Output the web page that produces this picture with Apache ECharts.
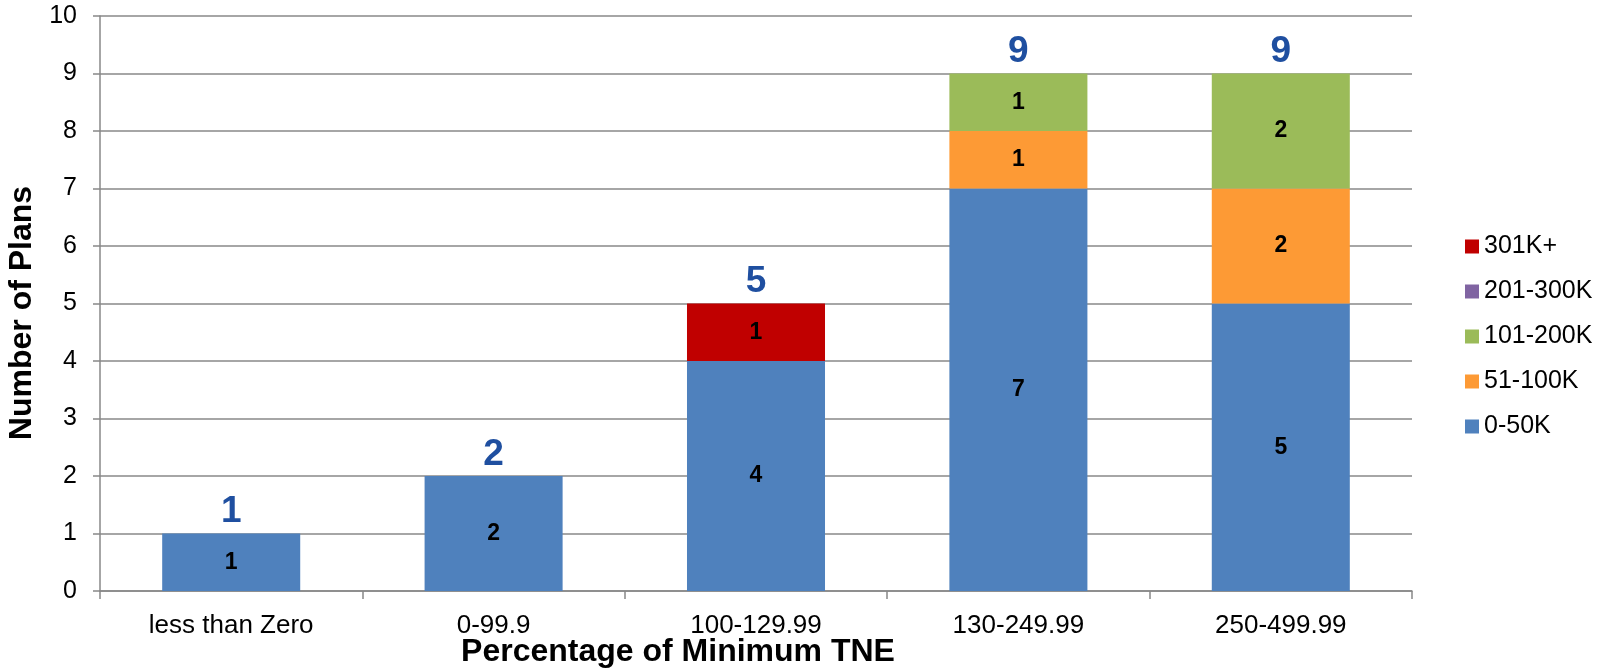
<!DOCTYPE html>
<html><head><meta charset="utf-8">
<script src="https://cdn.jsdelivr.net/npm/echarts@6/dist/echarts.min.js"></script>
<style>html,body{margin:0;padding:0;background:#fff}#c{width:1605px;height:670px}</style>
</head><body><div id="c"></div>
<script>
const categories = ['less than Zero', '0-99.9', '100-129.99', '130-249.99', '250-499.99'];
const s0_50K = [1, 2, 4, 7, 5];
const s51_100K = [0, 0, 0, 1, 2];
const s101_200K = [0, 0, 0, 1, 2];
const s201_300K = [0, 0, 0, 0, 0];
const s301Kplus = [0, 0, 1, 0, 0];
const seriesNames = ['0-50K', '51-100K', '101-200K', '201-300K', '301K+'];
const yTicks = [0, 1, 2, 3, 4, 5, 6, 7, 8, 9, 10];

const seriesData = [s0_50K, s51_100K, s101_200K, s201_300K, s301Kplus];
const colors = ['#4F81BD', '#FD9A35', '#9BBB59', '#8064A2', '#C00000'];
const totals = categories.map((_, i) => seriesData.reduce((a, s) => a + s[i], 0));

const font = 'Liberation Sans, Arial, sans-serif';
const chart = echarts.init(document.getElementById('c'));
const series = seriesData.map((d, k) => ({
  name: seriesNames[k], type: 'bar', stack: 'a', data: d, barWidth: '52.6%',
  itemStyle: { color: colors[k] },
  label: { show: true, position: 'inside', fontFamily: font, fontWeight: 'bold', fontSize: 23, color: '#000',
    formatter: p => p.value ? String(p.value) : '' }
}));
series.push({
  name: 'Total', type: 'bar', data: totals, barWidth: '52.6%', barGap: '-100%', z: 0,
  itemStyle: { color: 'rgba(0,0,0,0)' }, silent: true,
  label: { show: true, position: 'top', distance: 3, fontFamily: font, fontWeight: 'bold', fontSize: 37, color: '#1F4FA0' }
});
chart.setOption({
  animation: false,
  grid: { left: 100, right: 193, top: 16, bottom: 79 },
  legend: {
    data: ['301K+', '201-300K', '101-200K', '51-100K', '0-50K'],
    orient: 'vertical', left: 1460, top: 229, itemGap: 20, itemWidth: 14, itemHeight: 14,
    icon: 'rect', textStyle: { fontFamily: font, fontSize: 25, color: '#000' }
  },
  xAxis: {
    type: 'category', data: categories,
    axisLine: { lineStyle: { color: '#888', width: 1.5 } },
    axisTick: { show: true, length: 8, lineStyle: { color: '#888', width: 1.5 } },
    axisLabel: { fontFamily: font, fontSize: 26, color: '#000', margin: 22 }
  },
  yAxis: {
    type: 'value', min: 0, max: 10, interval: 1,
    axisLine: { show: true, lineStyle: { color: '#888', width: 1.5 } },
    axisTick: { show: true, length: 7, lineStyle: { color: '#888', width: 1.5 } },
    splitLine: { lineStyle: { color: '#888', width: 1.5 } },
    axisLabel: { fontFamily: font, fontSize: 25, color: '#000', margin: 23,
      formatter: v => yTicks.includes(v) ? String(v) : '' }
  },
  graphic: [{
    type: 'text', x: 678, y: 652,
    style: { text: 'Percentage of Minimum TNE', font: 'bold 32px Liberation Sans, Arial, sans-serif', fill: '#000',
      align: 'center', verticalAlign: 'middle' }
  }, {
    type: 'text', x: 22, y: 313, rotation: Math.PI / 2,
    style: { text: 'Number of Plans', font: 'bold 32px Liberation Sans, Arial, sans-serif', fill: '#000',
      align: 'center', verticalAlign: 'middle' }
  }],
  series: series
});
</script></body></html>
